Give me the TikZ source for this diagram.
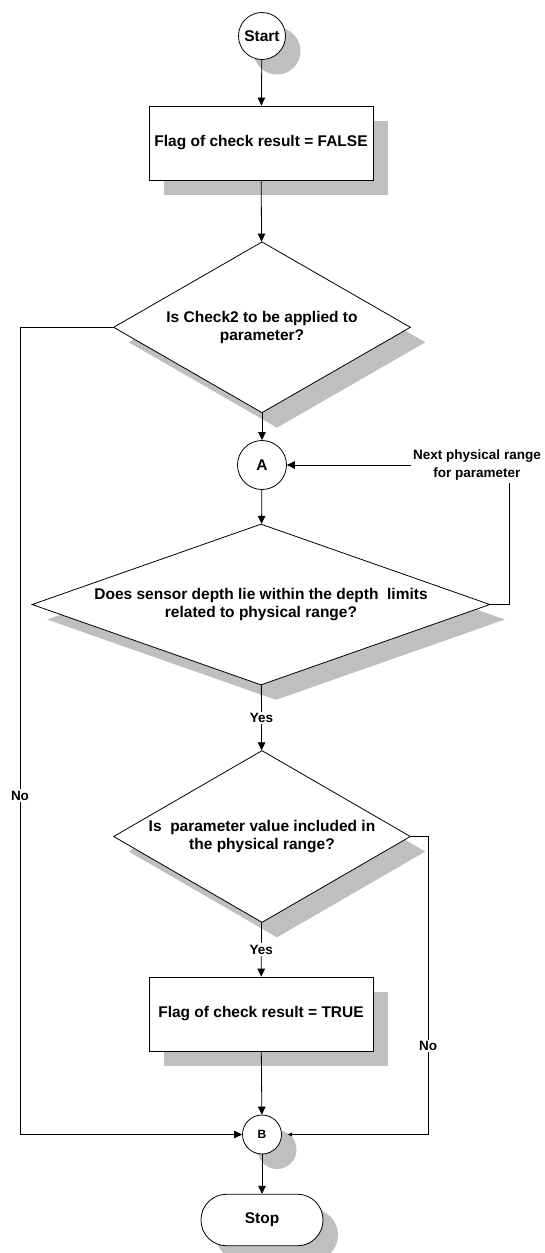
\documentclass[tikz,border=0pt]{standalone}
\usepackage{fontspec}
\setmainfont{Liberation Sans}
\usetikzlibrary{shapes.geometric,shadows,arrows.meta}
\begin{document}
\begin{tikzpicture}[x=1pt,y=-1pt,
  every node/.style={font=\bfseries\fontsize{15.5}{18.5}\selectfont},
  shad/.style={drop shadow={shadow xshift=15pt,shadow yshift=-15pt,fill=black!25,opacity=1}},
  shape base/.style={draw,fill=white,line width=0.8pt,inner sep=0pt},
  termcircle/.style={shape base,circle,shad},
  conn/.style={shape base,circle},
  proc/.style={shape base,rectangle,minimum width=224pt,minimum height=74pt,shad},
  dia/.style={shape base,diamond,shad},
  stopbox/.style={shape base,rectangle,rounded corners=25.5pt,minimum width=122pt,minimum height=51.5pt,shad},
  dtext/.style={align=center,inner sep=0pt},
  lbl/.style={font=\bfseries\fontsize{13.5}{17.3}\selectfont,fill=white,inner sep=1.5pt},
  ntext/.style={font=\bfseries\fontsize{13.5}{17.3}\selectfont,align=center,inner sep=2pt},
  line/.style={line width=0.8pt},
  arr/.style={line,-{Triangle[length=8pt,width=7.5pt]}},
  sarr/.style={line,-{Triangle[length=4pt,width=4pt]}}
]
\useasboundingbox (0,0) rectangle (545,1253);
\clip (0,0) rectangle (545,1253);

% nodes
\node[termcircle,minimum size=47pt] (start) at (262,36) {Start};
\node[proc] (box1) at (261,143) {Flag of check result = FALSE};
\node[dia,minimum width=297pt,minimum height=171pt] (d1) at (262,327.3) {};
\node[dtext] (t1) at (d1) {Is Check2 to be applied to\\parameter?};
\node[conn,minimum size=49pt] (A) at (262,465) {A};
\node[ntext] (next) at (477,465) {Next physical range\\for parameter};
\node[dia,minimum width=458pt,minimum height=161pt] (d2) at (261,604.5) {};
\node[dtext] (t2) at (d2) {Does sensor depth lie within the depth~ limits\\related to physical range?};
\node[dia,minimum width=297pt,minimum height=172pt] (d3) at (262,836.5) {};
\node[dtext] (t3) at (d3) {Is~ parameter value included in\\the physical range?};
\node[proc] (box2) at (261,1014) {Flag of check result = TRUE};
\node[termcircle,minimum size=39pt,font=\bfseries\fontsize{12}{14}\selectfont] (B) at (262,1134.5) {B};
\node[stopbox] (stop) at (262,1220) {Stop};

% helper coordinates
\coordinate (nr) at (509,483);
\coordinate (L1) at (20,327.3);
\coordinate (L2) at (20,1134.5);
\coordinate (R1) at (428,836.5);
\coordinate (R2) at (428,1134.5);
\coordinate (Bin) at (288,1134.5);

% connectors
\draw[arr] (start) -- (box1);
\draw[arr] (box1) -- (d1);
\draw[arr] (d1) -- (A);
\draw[arr] (A) -- (d2);
\draw[arr] (next.west) -- (A.east);
\draw[line] (d2.east) -| (nr);
\draw[arr] (d2) -- node[lbl,midway]{Yes} (d3);
\draw[arr] (d3) -- node[lbl,midway]{Yes} (box2);
\draw[arr] (box2) -- (B);
\draw[arr] (d1.west) -- (L1) -- node[lbl,pos=0.58]{No} (L2) -- (B.west);
\draw[sarr] (d3.east) -- (R1) -- node[lbl,pos=0.703]{No} (R2) -- (Bin);
\draw[arr] (B) -- (stop);
\end{tikzpicture}
\end{document}
